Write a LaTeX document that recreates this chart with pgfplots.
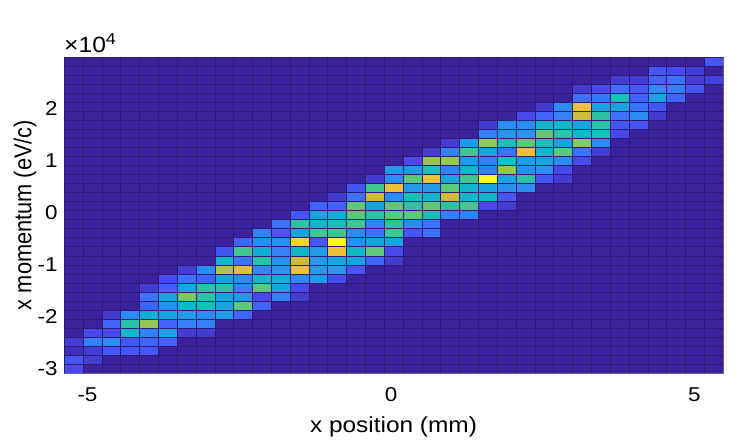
\documentclass[border=0pt]{standalone}
\usepackage{pgfplots}
\pgfplotsset{compat=1.18}
\usepackage{fontspec}
\setmainfont{Liberation Sans}
\pgfplotsset{colormap={parula}{
rgb255=(60,34,156) rgb255=(71,71,235) rgb255=(62,111,255) rgb255=(39,150,235) rgb255=(8,181,208)
rgb255=(49,198,159) rgb255=(127,203,88) rgb255=(211,187,57) rgb255=(254,195,56) rgb255=(249,251,21)}}
\definecolor{gridc}{RGB}{46,27,118}
\newcommand{\wx}[1]{\scalebox{1.12}[1]{#1}}
\newcommand{\wy}[1]{\scalebox{1}[1.12]{#1}}
\begin{document}
\begin{tikzpicture}
\path[use as bounding box] (-64pt,-73pt) rectangle (686pt,373pt);
\begin{axis}[
  at={(0pt,0pt)}, anchor=south west,
  scale only axis, width=659pt, height=316pt,
  xmin=-5.387, xmax=5.47, ymin=-3.08, ymax=3.0,
  xtick={-5,0,5}, ytick={-3,-2,-1,0,1,2},
  xticklabels={\wx{-5},\wx{0},\wx{5}},
  yticklabels={\wx{-3},\wx{-2},\wx{-1},\wx{0},\wx{1},\wx{2}},
  xticklabel style={font=\fontsize{20}{22}\selectfont, yshift=-11pt},
  yticklabel style={font=\fontsize{20}{22}\selectfont, xshift=-3pt},
  /pgf/number format/assume math mode=true,
  tick style={draw=none},
  axis line style={draw=gridc!70!white, line width=0.4pt},
  xlabel={\wx{x position (mm)}}, ylabel={\wy{x momentum (eV/c)}},
  xlabel style={font=\fontsize{21.8}{24}\selectfont, at={(axis description cs:0.5,0)}, anchor=north, yshift=-40pt},
  ylabel style={font=\fontsize{21.8}{24}\selectfont, at={(axis description cs:0,0.5)}, anchor=south, yshift=24pt},
  colormap name=parula,
  point meta min=0, point meta max=13,
  clip mode=individual,
]
\addplot[surf, shader=flat corner, draw=gridc, line width=0.25pt, mesh/cols=36, mesh/rows=21, point meta=explicit]
 table[row sep=\\, x expr={-5.387+0.3102*(\coordindex-36*floor((\coordindex+0.5)/36))}, y expr={-3.08+0.17371*floor((\coordindex+0.5)/36)}, meta=z]{
z\\
1.5\\0\\0\\0\\0\\ 0\\0\\0\\0\\0\\ 0\\0\\0\\0\\0\\ 0\\0\\0\\0\\0\\ 0\\0\\0\\0\\0\\ 0\\0\\0\\0\\0\\ 0\\0\\0\\0\\0\\ 0\\
2\\1\\0\\0\\0\\ 0\\0\\0\\0\\0\\ 0\\0\\0\\0\\0\\ 0\\0\\0\\0\\0\\ 0\\0\\0\\0\\0\\ 0\\0\\0\\0\\0\\ 0\\0\\0\\0\\0\\ 0\\
0.5\\1\\2\\2\\2\\ 0\\0\\0\\0\\0\\ 0\\0\\0\\0\\0\\ 0\\0\\0\\0\\0\\ 0\\0\\0\\0\\0\\ 0\\0\\0\\0\\0\\ 0\\0\\0\\0\\0\\ 0\\
1\\3.5\\4\\2\\2.5\\ 2.5\\0\\0\\0\\0\\ 0\\0\\0\\0\\0\\ 0\\0\\0\\0\\0\\ 0\\0\\0\\0\\0\\ 0\\0\\0\\0\\0\\ 0\\0\\0\\0\\0\\ 0\\
0\\1.5\\1.5\\6\\3.5\\ 4.5\\1\\1\\0\\0\\ 0\\0\\0\\0\\0\\ 0\\0\\0\\0\\0\\ 0\\0\\0\\0\\0\\ 0\\0\\0\\0\\0\\ 0\\0\\0\\0\\0\\ 0\\
0\\0\\2.5\\7\\9\\ 2.5\\3.5\\3.5\\0\\0\\ 0\\0\\0\\0\\0\\ 0\\0\\0\\0\\0\\ 0\\0\\0\\0\\0\\ 0\\0\\0\\0\\0\\ 0\\0\\0\\0\\0\\ 0\\
0\\0\\1\\4\\5.5\\ 5\\4.5\\4\\4.5\\2.5\\ 0\\0\\0\\0\\0\\ 0\\0\\0\\0\\0\\ 0\\0\\0\\0\\0\\ 0\\0\\0\\0\\0\\ 0\\0\\0\\0\\0\\ 0\\
0\\0\\0\\0\\2.5\\ 4\\6\\6.5\\5\\8\\ 2.5\\0\\0\\0\\0\\ 0\\0\\0\\0\\0\\ 0\\0\\0\\0\\0\\ 0\\0\\0\\0\\0\\ 0\\0\\0\\0\\0\\ 0\\
0\\0\\0\\0\\3\\ 5\\8.5\\7\\5\\4.5\\ 1.5\\3.5\\1\\0\\0\\ 0\\0\\0\\0\\0\\ 0\\0\\0\\0\\0\\ 0\\0\\0\\0\\0\\ 0\\0\\0\\0\\0\\ 0\\
0\\0\\0\\0\\1\\ 2.5\\5\\7\\7\\3.5\\ 8\\5\\1.5\\0\\0\\ 0\\0\\0\\0\\0\\ 0\\0\\0\\0\\0\\ 0\\0\\0\\0\\0\\ 0\\0\\0\\0\\0\\ 0\\
0\\0\\0\\0\\0\\ 1.5\\3\\2.5\\5\\4\\ 6\\5.5\\4\\4.5\\1.5\\ 0\\0\\0\\0\\0\\ 0\\0\\0\\0\\0\\ 0\\0\\0\\0\\0\\ 0\\0\\0\\0\\0\\ 0\\
0\\0\\0\\0\\0\\ 0\\1\\4\\9.5\\10.5\\ 4\\4.5\\11\\4.5\\4.5\\ 2\\0\\0\\0\\0\\ 0\\0\\0\\0\\0\\ 0\\0\\0\\0\\0\\ 0\\0\\0\\0\\0\\ 0\\
0\\0\\0\\0\\0\\ 0\\0\\0\\6\\3\\ 7\\4\\10\\4.5\\5\\ 5\\2.5\\1\\0\\0\\ 0\\0\\0\\0\\0\\ 0\\0\\0\\0\\0\\ 0\\0\\0\\0\\0\\ 0\\
0\\0\\0\\0\\0\\ 0\\0\\0\\2\\7.5\\ 5.5\\3.5\\6\\4.5\\11\\ 6\\8\\1.5\\0\\0\\ 0\\0\\0\\0\\0\\ 0\\0\\0\\0\\0\\ 0\\0\\0\\0\\0\\ 0\\
0\\0\\0\\0\\0\\ 0\\0\\0\\0\\2.5\\ 4\\4\\12\\2\\13\\ 4\\5\\5\\0\\0\\ 0\\0\\0\\0\\0\\ 0\\0\\0\\0\\0\\ 0\\0\\0\\0\\0\\ 0\\
0\\0\\0\\0\\0\\ 0\\0\\0\\0\\0\\ 3.5\\2\\5\\7.5\\7.5\\ 4\\3\\7.5\\2\\3\\ 0\\0\\0\\0\\0\\ 0\\0\\0\\0\\0\\ 0\\0\\0\\0\\0\\ 0\\
0\\0\\0\\0\\0\\ 0\\0\\0\\0\\0\\ 0\\3\\7\\6\\6.5\\ 7.5\\3.5\\7\\4\\3\\ 0\\0\\0\\0\\0\\ 0\\0\\0\\0\\0\\ 0\\0\\0\\0\\0\\ 0\\
0\\0\\0\\0\\0\\ 0\\0\\0\\0\\0\\ 0\\0\\2\\5\\5.5\\ 8\\7\\8\\8\\6.5\\ 3.5\\3.5\\0\\0\\0\\ 0\\0\\0\\0\\0\\ 0\\0\\0\\0\\0\\ 0\\
0\\0\\0\\0\\0\\ 0\\0\\0\\0\\0\\ 0\\0\\0\\2.5\\2.5\\ 8\\5\\8\\7\\8\\ 7\\7.5\\1.5\\1\\0\\ 0\\0\\0\\0\\0\\ 0\\0\\0\\0\\0\\ 0\\
0\\0\\0\\0\\0\\ 0\\0\\0\\0\\0\\ 0\\0\\0\\0\\1\\ 3\\10\\4\\6.5\\6\\ 10\\6\\6\\2\\0\\ 0\\0\\0\\0\\0\\ 0\\0\\0\\0\\0\\ 0\\
0\\0\\0\\0\\0\\ 0\\0\\0\\0\\0\\ 0\\0\\0\\0\\0\\ 2\\7.5\\11\\4.5\\4.5\\ 8\\6\\5\\4\\4\\ 0\\0\\0\\0\\0\\ 0\\0\\0\\0\\0\\ 0\\
};
\addplot[surf, shader=flat corner, draw=gridc, line width=0.25pt, mesh/cols=36, mesh/rows=16, point meta=explicit]
 table[row sep=\\, x expr={-5.387+0.3102*(\coordindex-36*floor((\coordindex+0.5)/36))}, y expr={-3.08+0.17371*(20+floor((\coordindex+0.5)/36))}, meta=z]{
z\\
0\\0\\0\\0\\0\\ 0\\0\\0\\0\\0\\ 0\\0\\0\\0\\0\\ 2\\7.5\\11\\4.5\\4.5\\ 8\\6\\5\\4\\4\\ 0\\0\\0\\0\\0\\ 0\\0\\0\\0\\0\\ 0\\
0\\0\\0\\0\\0\\ 0\\0\\0\\0\\0\\ 0\\0\\0\\0\\0\\ 0\\1\\4\\8\\11\\ 5\\7.5\\13\\5\\7\\ 2\\1\\0\\0\\0\\ 0\\0\\0\\0\\0\\ 0\\
0\\0\\0\\0\\0\\ 0\\0\\0\\0\\0\\ 0\\0\\0\\0\\0\\ 0\\0\\4.5\\4.5\\6.5\\ 3.5\\6\\3.5\\9\\4\\ 4\\1.5\\0\\0\\0\\ 0\\0\\0\\0\\0\\ 0\\
0\\0\\0\\0\\0\\ 0\\0\\0\\0\\0\\ 0\\0\\0\\0\\0\\ 0\\0\\0\\1.5\\9\\ 9\\4.5\\3.5\\6.5\\4.5\\ 5\\4\\1.5\\0\\0\\ 0\\0\\0\\0\\0\\ 0\\
0\\0\\0\\0\\0\\ 0\\0\\0\\0\\0\\ 0\\0\\0\\0\\0\\ 0\\0\\0\\0\\1\\ 3.5\\7.5\\5\\3\\11\\ 6\\8\\3\\1\\0\\ 0\\0\\0\\0\\0\\ 0\\
0\\0\\0\\0\\0\\ 0\\0\\0\\0\\0\\ 0\\0\\0\\0\\0\\ 0\\0\\0\\0\\0\\ 1\\4.5\\9\\6.5\\8\\ 6.5\\5\\9\\4\\0\\ 0\\0\\0\\0\\0\\ 0\\
0\\0\\0\\0\\0\\ 0\\0\\0\\0\\0\\ 0\\0\\0\\0\\0\\ 0\\0\\0\\0\\0\\ 0\\0\\3.5\\4.5\\4.5\\ 8\\7\\6\\6.5\\1.5\\ 0\\0\\0\\0\\0\\ 0\\
0\\0\\0\\0\\0\\ 0\\0\\0\\0\\0\\ 0\\0\\0\\0\\0\\ 0\\0\\0\\0\\0\\ 0\\0\\1\\4\\4\\ 6\\6\\5\\7\\2\\ 2\\0\\0\\0\\0\\ 0\\
0\\0\\0\\0\\0\\ 0\\0\\0\\0\\0\\ 0\\0\\0\\0\\0\\ 0\\0\\0\\0\\0\\ 0\\0\\0\\0\\1.5\\ 2.5\\3.5\\10\\7\\3\\ 4\\1\\0\\0\\0\\ 0\\
0\\0\\0\\0\\0\\ 0\\0\\0\\0\\0\\ 0\\0\\0\\0\\0\\ 0\\0\\0\\0\\0\\ 0\\0\\0\\0\\0\\ 1\\4\\11\\5\\5\\ 3\\2\\0\\0\\0\\ 0\\
0\\0\\0\\0\\0\\ 0\\0\\0\\0\\0\\ 0\\0\\0\\0\\0\\ 0\\0\\0\\0\\0\\ 0\\0\\0\\0\\0\\ 0\\0\\3\\3\\6.5\\ 2.5\\5\\2.5\\0\\0\\ 0\\
0\\0\\0\\0\\0\\ 0\\0\\0\\0\\0\\ 0\\0\\0\\0\\0\\ 0\\0\\0\\0\\0\\ 0\\0\\0\\0\\0\\ 0\\0\\1\\1.5\\3\\ 2\\4\\3.5\\2\\0\\ 0\\
0\\0\\0\\0\\0\\ 0\\0\\0\\0\\0\\ 0\\0\\0\\0\\0\\ 0\\0\\0\\0\\0\\ 0\\0\\0\\0\\0\\ 0\\0\\0\\0\\1\\ 1\\2.5\\3\\1\\1.2\\ 0\\
0\\0\\0\\0\\0\\ 0\\0\\0\\0\\0\\ 0\\0\\0\\0\\0\\ 0\\0\\0\\0\\0\\ 0\\0\\0\\0\\0\\ 0\\0\\0\\0\\0\\ 0\\2\\1.5\\1\\0\\ 0\\
0\\0\\0\\0\\0\\ 0\\0\\0\\0\\0\\ 0\\0\\0\\0\\0\\ 0\\0\\0\\0\\0\\ 0\\0\\0\\0\\0\\ 0\\0\\0\\0\\0\\ 0\\0\\0\\0\\2\\ 0\\
0\\0\\0\\0\\0\\ 0\\0\\0\\0\\0\\ 0\\0\\0\\0\\0\\ 0\\0\\0\\0\\0\\ 0\\0\\0\\0\\0\\ 0\\0\\0\\0\\0\\ 0\\0\\0\\0\\0\\ 0\\
};
\node[anchor=south west, inner sep=0pt, font=\fontsize{22}{24}\selectfont] at (rel axis cs:0,1) [yshift=4pt] {\wx{×10\raisebox{8pt}{\fontsize{16}{18}\selectfont 4}}};
\end{axis}
\end{tikzpicture}
\end{document}
